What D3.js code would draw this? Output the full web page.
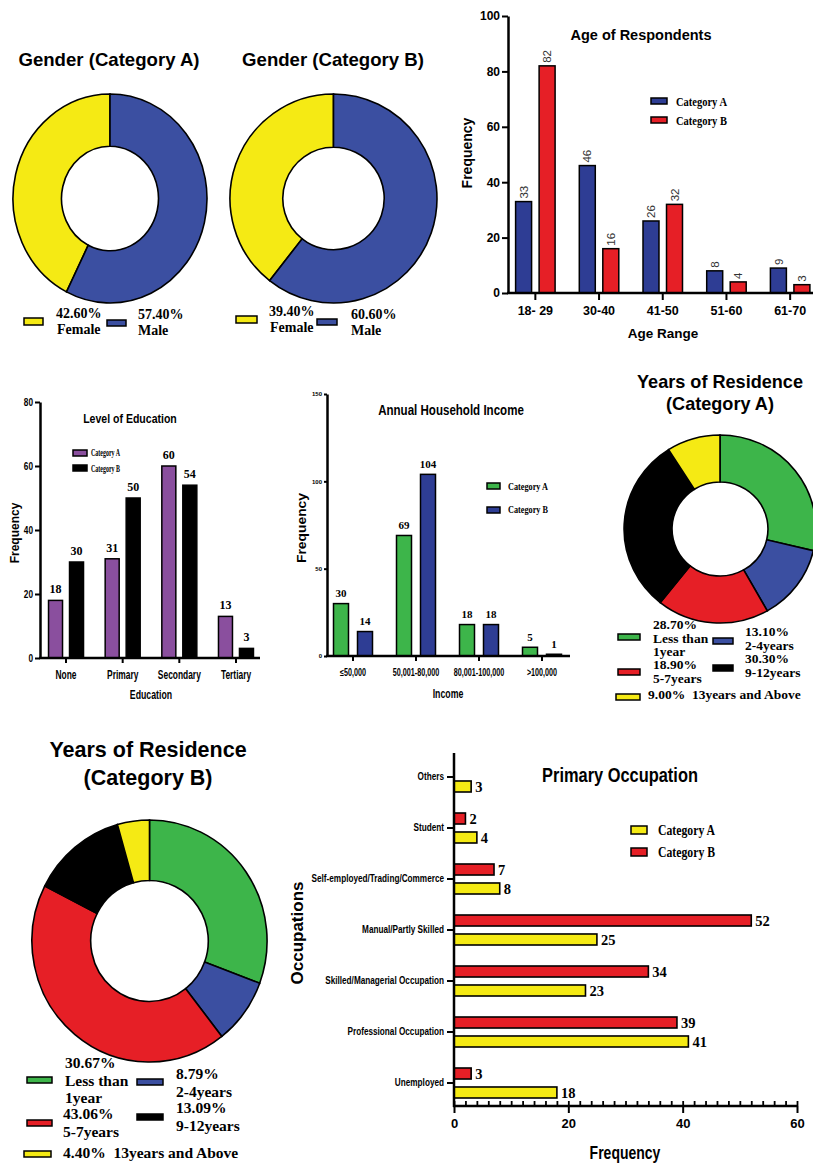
<!DOCTYPE html>
<html>
<head>
<meta charset="utf-8">
<script src="https://cdn.jsdelivr.net/npm/d3@7/dist/d3.min.js"></script>
<style>
body { margin: 0; background: #fff; }
</style>
</head>
<body>
<svg id="fig" width="813" height="1164"></svg>
<script>
// ---- data ----
const genderLabels = ["Female", "Male"];
const genderA = [42.6, 57.4];
const genderB = [39.4, 60.6];

const ageRanges = ["18- 29", "30-40", "41-50", "51-60", "61-70"];
const ageA = [33, 46, 26, 8, 9];
const ageB = [82, 16, 32, 4, 3];

const eduLevels = ["None", "Primary", "Secondary", "Tertiary"];
const eduA = [18, 31, 60, 13];
const eduB = [30, 50, 54, 3];

const incomeBands = ["\u226450,000", "50,001-80,000", "80,001-100,000", ">100,000"];
const incomeA = [30, 69, 18, 5];
const incomeB = [14, 104, 18, 1];

const residenceLabels = [["Less than", "1year"], ["2-4years"], ["5-7years"], ["9-12years"], ["13years and Above"]];
const residenceA = [28.7, 13.1, 18.9, 30.3, 9.0];
const residenceB = [30.67, 8.79, 43.06, 13.09, 4.40];

const occupations = ["Others", "Student", "Self-employed/Trading/Commerce", "Manual/Partly Skilled",
  "Skilled/Managerial Occupation", "Professional Occupation", "Unemployed"];
const occA = [3, 4, 8, 25, 23, 41, 18];
const occB = [null, 2, 7, 52, 34, 39, 3];

const seriesNames = ["Category A", "Category B"];

// ---- styles ----
const SANS = "'Liberation Sans', Arial, sans-serif";
const SERIF = "'Liberation Serif', 'Times New Roman', serif";
const YELLOW = "#f5ea14", BLUE = "#3b4fa1", DBLUE = "#2e3d94", RED = "#e61f26",
  GREEN = "#3db54a", PURPLE = "#8a4f9e", BLACK = "#000";

const svg = d3.select("#fig");

// squeeze text horizontally (no narrow font installed)
function squeeze(sel, k) {
  sel.each(function () {
    const w = this.getComputedTextLength();
    d3.select(this).attr("textLength", w * k).attr("lengthAdjust", "spacingAndGlyphs");
  });
}

function addText(parent, x, y, str, o) {
  const t = parent.append("text").attr("x", x).attr("y", y).text(str)
    .attr("font-family", o.font || SANS).attr("font-size", o.size)
    .attr("font-weight", o.weight || "bold")
    .attr("text-anchor", o.anchor || "start")
    .attr("fill", o.fill || "#000");
  if (o.len) t.attr("textLength", o.len).attr("lengthAdjust", "spacingAndGlyphs");
  if (o.narrow) squeeze(t, o.narrow);
  if (o.rot) t.attr("transform", `rotate(-90,${x},${y})`);
  return t;
}

function donut(o) {
  const g = svg.append("g")
    .attr("transform", `translate(${o.cx},${o.cy}) scale(${o.sx || 1},${o.sy || 1})`);
  const start = o.start || 0;
  const pie = d3.pie().sort(null).startAngle(start).endAngle(start + 2 * Math.PI);
  const arc = d3.arc().innerRadius(o.r * o.inner).outerRadius(o.r);
  g.selectAll("path").data(pie(o.values)).join("path")
    .attr("d", arc)
    .attr("fill", (d, i) => o.colors[i])
    .attr("stroke", "#000").attr("stroke-width", 1.6)
    .attr("vector-effect", "non-scaling-stroke");
}

function swatch(x, y, w, h, color) {
  svg.append("rect").attr("x", x).attr("y", y).attr("width", w).attr("height", h)
    .attr("fill", color).attr("stroke", "#000").attr("stroke-width", 1.5);
}

function styleAxis(g, size, k) {
  g.select(".domain").attr("stroke-width", 2.5);
  g.selectAll(".tick line").attr("stroke-width", 2);
  const t = g.selectAll(".tick text").attr("font-family", SANS).attr("font-size", size)
    .attr("font-weight", "bold").attr("fill", "#000");
  if (k) squeeze(t, k);
}

// grouped vertical bars
function vbars(o) {
  const g = svg.append("g");
  const x = d3.scaleBand().domain(o.cats).range(o.xr);
  const sub = d3.scaleBand().domain(["A", "B"]).range([-o.half, o.half]).paddingInner(o.pad);
  const y = d3.scaleLinear().domain([0, o.max]).range(o.yr);
  const rows = o.cats.flatMap((c, i) => [{ k: "A", c, v: o.a[i] }, { k: "B", c, v: o.b[i] }]);
  const cx = d => x(d.c) + x.bandwidth() / 2 + sub(d.k) + sub.bandwidth() / 2;

  g.selectAll("rect").data(rows).join("rect")
    .attr("x", d => cx(d) - sub.bandwidth() / 2)
    .attr("y", d => y(d.v))
    .attr("width", sub.bandwidth())
    .attr("height", d => y(0) - y(d.v))
    .attr("fill", d => d.k === "A" ? o.colA : o.colB)
    .attr("stroke", "#000").attr("stroke-width", 1.5);

  // value labels
  const lab = g.selectAll("text.val").data(rows).join("text").attr("class", "val")
    .text(d => d.v)
    .attr("font-family", o.valFont).attr("font-size", o.valSize)
    .attr("font-weight", o.valWeight).attr("fill", o.valFill || "#000");
  if (o.valRot) {
    lab.attr("text-anchor", "start")
      .attr("transform", d => `translate(${cx(d) + o.valSize * 0.36},${y(d.v) - 3}) rotate(-90)`);
  } else {
    lab.attr("text-anchor", "middle").attr("x", cx).attr("y", d => y(d.v) - o.valGap);
  }

  const ya = g.append("g").attr("transform", `translate(${o.ax},0)`)
    .call(d3.axisLeft(y).tickValues(o.ticks).tickSize(o.yTick).tickPadding(o.yPad).tickSizeOuter(0));
  styleAxis(ya, o.ySize, o.yK);

  const xa = g.append("g").attr("transform", `translate(0,${y(0)})`)
    .call(d3.axisBottom(x).tickSize(o.xTick).tickPadding(o.xPad).tickSizeOuter(0));
  styleAxis(xa, o.xSize, o.xK);
  xa.select(".domain").remove();
  g.append("line").attr("x1", o.ax - 1).attr("x2", o.xEnd).attr("y1", y(0)).attr("y2", y(0))
    .attr("stroke", "#000").attr("stroke-width", 2.5);
}

// ---- Gender donuts ----
addText(svg, 109, 66, "Gender (Category A)", { size: 18.6, anchor: "middle" });
addText(svg, 333, 66, "Gender (Category B)", { size: 18.6, anchor: "middle" });
donut({ cx: 110, cy: 198.5, r: 100, sx: 0.97, sy: 1.045, inner: 0.5, values: genderA,
  colors: [YELLOW, BLUE], start: -2 * Math.PI * genderA[0] / d3.sum(genderA) });
donut({ cx: 333.5, cy: 198.5, r: 104, sx: 0.995, sy: 1.005, inner: 0.49, values: genderB,
  colors: [YELLOW, BLUE], start: -2 * Math.PI * genderB[0] / d3.sum(genderB) });

const fmt = v => v.toFixed(2) + "%";
// Gender A legend
swatch(24, 318, 19, 7, YELLOW);
addText(svg, 56, 318, fmt(genderA[0]), { font: SERIF, size: 14 });
addText(svg, 57, 334, genderLabels[0], { font: SERIF, size: 14 });
swatch(107, 320, 19, 6, BLUE);
addText(svg, 138, 319, fmt(genderA[1]), { font: SERIF, size: 14 });
addText(svg, 138, 335, genderLabels[1], { font: SERIF, size: 14 });
// Gender B legend
swatch(236, 316, 21, 7, YELLOW);
addText(svg, 269, 316, fmt(genderB[0]), { font: SERIF, size: 14 });
addText(svg, 270, 332, genderLabels[0], { font: SERIF, size: 14 });
swatch(317, 319, 20, 6, BLUE);
addText(svg, 351, 319, fmt(genderB[1]), { font: SERIF, size: 14 });
addText(svg, 351, 335, genderLabels[1], { font: SERIF, size: 14 });

// ---- Age of Respondents ----
vbars({
  cats: ageRanges, a: ageA, b: ageB, colA: DBLUE, colB: RED,
  xr: [503.5, 822], half: 19.75, pad: 0.32, max: 100, yr: [293, 16],
  ticks: [0, 20, 40, 60, 80, 100], ax: 508, xEnd: 813,
  yTick: 6, yPad: 2, ySize: 12,
  xTick: 7, xPad: 6, xSize: 12.5,
  valFont: SANS, valSize: 11.5, valWeight: "normal", valFill: "#333", valRot: true
});
addText(svg, 641, 40, "Age of Respondents", { size: 14.5, anchor: "middle" });
addText(svg, 663, 338, "Age Range", { size: 13.5, anchor: "middle" });
addText(svg, 472, 153, "Frequency", { size: 14, anchor: "middle", rot: true });
swatch(651, 98, 16, 6, DBLUE);
addText(svg, 676, 106, seriesNames[0], { font: SERIF, size: 12, len: 51 });
swatch(651, 117, 16, 6, RED);
addText(svg, 676, 125, seriesNames[1], { font: SERIF, size: 12, len: 51 });

// ---- Level of Education ----
vbars({
  cats: eduLevels, a: eduA, b: eduB, colA: PURPLE, colB: BLACK,
  xr: [37.7, 264.3], half: 17.5, pad: 0.333, max: 80, yr: [658, 402],
  ticks: [0, 20, 40, 60, 80], ax: 40, xEnd: 260,
  yTick: 5, yPad: 2, ySize: 11, yK: 0.75,
  xTick: 5, xPad: 7, xSize: 12, xK: 0.7,
  valFont: SERIF, valSize: 12, valWeight: "bold", valGap: 7
});
addText(svg, 130, 423, "Level of Education", { size: 13.5, anchor: "middle", narrow: 0.78 });
addText(svg, 151, 699, "Education", { size: 12.5, anchor: "middle", narrow: 0.7 });
addText(svg, 19, 533, "Frequency", { size: 12, anchor: "middle", rot: true });
swatch(73, 450, 14, 6, PURPLE);
addText(svg, 91, 456, seriesNames[0], { font: SERIF, size: 10, len: 29 });
swatch(73, 465, 14, 6, BLACK);
addText(svg, 91, 472, seriesNames[1], { font: SERIF, size: 10, len: 29 });

// ---- Annual Household Income ----
vbars({
  cats: incomeBands, a: incomeA, b: incomeB, colA: GREEN, colB: DBLUE,
  xr: [321.5, 573.5], half: 19.5, pad: 0.375, max: 150, yr: [656, 394],
  ticks: [0, 50, 100, 150], ax: 327, xEnd: 570,
  yTick: 3, yPad: 2, ySize: 6,
  xTick: 5, xPad: 8, xSize: 10, xK: 0.72,
  valFont: SERIF, valSize: 11, valWeight: "bold", valGap: 6.5
});
addText(svg, 451, 415, "Annual Household Income", { size: 15, anchor: "middle", narrow: 0.77 });
addText(svg, 448, 698, "Income", { size: 12.5, anchor: "middle", narrow: 0.7 });
addText(svg, 306, 528, "Frequency", { size: 12.5, anchor: "middle", rot: true, len: 70 });
swatch(487, 483, 13, 6, GREEN);
addText(svg, 508, 490, seriesNames[0], { font: SERIF, size: 10.5, len: 40 });
swatch(487, 507, 13, 6, DBLUE);
addText(svg, 508, 513, seriesNames[1], { font: SERIF, size: 10.5, len: 40 });

// ---- Years of Residence ----
const resColors = [GREEN, BLUE, RED, BLACK, YELLOW];
addText(svg, 720, 388, "Years of Residence", { size: 18.1, anchor: "middle" });
addText(svg, 720, 410, "(Category A)", { size: 18.1, anchor: "middle" });
donut({ cx: 720, cy: 529, r: 95, sx: 1.01, sy: 0.99, inner: 0.5, values: residenceA, colors: resColors });

addText(svg, 148, 757, "Years of Residence", { size: 21.5, anchor: "middle" });
addText(svg, 148, 785, "(Category B)", { size: 21.5, anchor: "middle" });
donut({ cx: 149.5, cy: 941, r: 119, sx: 0.988, sy: 1.017, inner: 0.5, values: residenceB, colors: resColors });

// residence legends: item layout [swatch x, swatch y, swatch w, text x, first baseline]
function resLegend(values, layout, size, lh) {
  values.forEach((v, i) => {
    const L = layout[i];
    swatch(L[0], L[1], L[2], 6, resColors[i]);
    if (i === values.length - 1) {
      addText(svg, L[3], L[4], fmt(v) + "\u00a0\u00a0" + residenceLabels[i][0], { font: SERIF, size });
    } else {
      addText(svg, L[3], L[4], fmt(v), { font: SERIF, size });
      residenceLabels[i].forEach((s, j) =>
        addText(svg, L[3], L[4] + lh * (j + 1), s, { font: SERIF, size }));
    }
  });
}
resLegend(residenceA, [
  [618, 634, 22, 653, 629], [713, 638, 20, 745, 636], [618, 669, 22, 653, 669],
  [713, 665, 20, 745, 663], [616, 694, 24, 648, 699]
], 13.5, 13.5);
resLegend(residenceB, [
  [27, 1077, 25, 65, 1068], [137, 1079, 26, 176, 1079], [27, 1120, 25, 63, 1119],
  [137, 1114, 26, 176, 1113], [24, 1151, 27, 63, 1158]
], 15.5, 17.5);

// ---- Primary Occupation (horizontal) ----
(function () {
  const g = svg.append("g");
  const y = d3.scaleBand().domain(occupations).range([751.5, 1108.5]);
  const sub = d3.scaleBand().domain(["B", "A"]).range([-15, 15]).paddingInner(0.42);
  const x = d3.scaleLinear().domain([0, 60]).range([454, 797]);
  const rows = occupations.flatMap((c, i) => [{ k: "A", c, v: occA[i] }, { k: "B", c, v: occB[i] }])
    .filter(d => d.v != null);
  const cy = d => y(d.c) + y.bandwidth() / 2 + sub(d.k) + sub.bandwidth() / 2;

  g.selectAll("rect").data(rows).join("rect")
    .attr("x", x(0)).attr("y", d => cy(d) - sub.bandwidth() / 2)
    .attr("width", d => x(d.v) - x(0)).attr("height", sub.bandwidth())
    .attr("fill", d => d.k === "A" ? YELLOW : RED)
    .attr("stroke", "#000").attr("stroke-width", 1.6);

  g.selectAll("text.val").data(rows).join("text").attr("class", "val")
    .attr("x", d => x(d.v) + 4).attr("y", cy).attr("dy", "0.35em")
    .text(d => d.v)
    .attr("font-family", SERIF).attr("font-size", 14.5).attr("font-weight", "bold");

  // minor ticks every 2 (upwards)
  const minor = g.append("g").attr("transform", "translate(0,1106)")
    .call(d3.axisTop(x).tickValues(d3.range(0, 61, 2)).tickSize(5).tickFormat(""));
  minor.select(".domain").remove();
  minor.selectAll(".tick line").attr("stroke-width", 1.8);

  const xa = g.append("g").attr("transform", "translate(0,1106)")
    .call(d3.axisBottom(x).tickValues([0, 20, 40, 60]).tickSize(7).tickPadding(6).tickSizeOuter(0));
  styleAxis(xa, 13, 0);
  xa.select(".domain").remove();
  g.append("line").attr("x1", 453).attr("x2", 797).attr("y1", 1106).attr("y2", 1106)
    .attr("stroke", "#000").attr("stroke-width", 2.5);

  const ya = g.append("g").attr("transform", "translate(454,0)")
    .call(d3.axisLeft(y).tickSize(7).tickPadding(3).tickSizeOuter(0));
  styleAxis(ya, 10.5, 0.78);
  ya.select(".domain").remove();
  g.append("line").attr("x1", 454).attr("x2", 454).attr("y1", 753).attr("y2", 1107)
    .attr("stroke", "#000").attr("stroke-width", 2.5);
})();
addText(svg, 620, 782, "Primary Occupation", { size: 20.5, anchor: "middle", narrow: 0.8 });
addText(svg, 625, 1159, "Frequency", { size: 17.5, anchor: "middle", narrow: 0.8 });
addText(svg, 303, 933, "Occupations", { size: 17, anchor: "middle", rot: true });
swatch(631, 826, 16, 8, YELLOW);
addText(svg, 658, 835, seriesNames[0], { font: SERIF, size: 14, len: 57 });
swatch(631, 848, 16, 8, RED);
addText(svg, 658, 857, seriesNames[1], { font: SERIF, size: 14, len: 57 });
</script>
</body>
</html>
